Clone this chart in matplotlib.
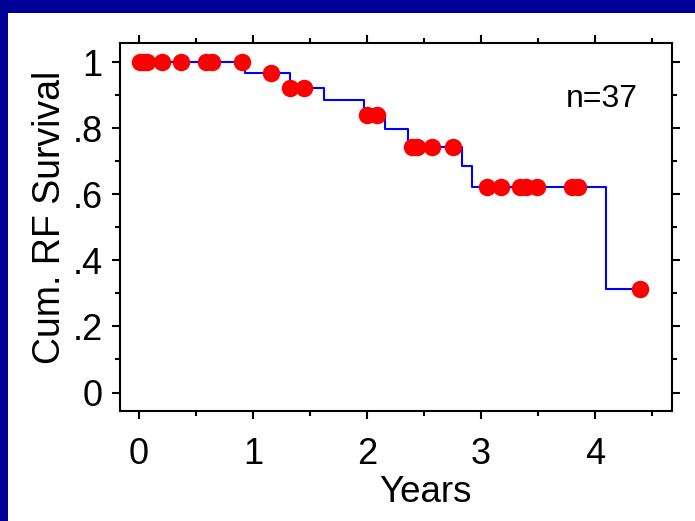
import matplotlib
matplotlib.use("Agg")
import matplotlib.pyplot as plt
from matplotlib.patches import Rectangle
from matplotlib.ticker import FixedLocator, MultipleLocator

plt.rcParams['font.family'] = ['Liberation Sans', 'DejaVu Sans']

# Kaplan-Meier step curve (event times and survival levels)
step_times = [0.0, 0.931, 1.32, 1.62, 1.975, 2.155, 2.36, 2.83, 2.917, 4.10, 4.395]
step_surv = [1.0, 0.966, 0.923, 0.884, 0.840, 0.797, 0.744, 0.687, 0.623, 0.314, 0.314]

# Censored observations
cens_times = [0.01, 0.04, 0.07, 0.199, 0.368, 0.59, 0.642, 0.90,
              1.161,
              1.325, 1.45,
              2.004, 2.083,
              2.392, 2.441, 2.572, 2.753,
              3.054, 3.176, 3.346, 3.39, 3.49, 3.797, 3.85,
              4.395]
cens_surv = [1.0] * 8 + [0.966] + [0.923] * 2 + [0.840] * 2 + [0.744] * 4 + [0.623] * 7 + [0.314]

x_ticks = [0, 1, 2, 3, 4]
y_ticks = [0, 0.2, 0.4, 0.6, 0.8, 1.0]
y_tick_labels = ['0', '.2', '.4', '.6', '.8', '1']

W, H = 695, 521
fig = plt.figure(figsize=(W / 100, H / 100), dpi=100, facecolor='white')

navy = '#000099'
fig.patches.append(Rectangle((0, 1 - 13 / H), 1, 13 / H, transform=fig.transFigure,
                             facecolor=navy, edgecolor='none', zorder=0))
fig.patches.append(Rectangle((0, 0), 8 / W, 1, transform=fig.transFigure,
                             facecolor=navy, edgecolor='none', zorder=0))

left, right, top, bottom = 120, 672, 43, 411
ax = fig.add_axes([left / W, 1 - bottom / H, (right - left) / W, (bottom - top) / H])

ax.step(step_times, step_surv, where='post', color='#0000FF', lw=1.5, zorder=2)
ax.plot(cens_times, cens_surv, 'o', color='#FF0000', markersize=12.6,
        markeredgewidth=0, zorder=3)

ax.set_xlim(-0.167, 4.675)
ax.set_ylim(-0.056, 1.058)

ax.xaxis.set_major_locator(FixedLocator(x_ticks))
ax.xaxis.set_minor_locator(MultipleLocator(0.5))
ax.yaxis.set_major_locator(FixedLocator(y_ticks))
ax.yaxis.set_minor_locator(FixedLocator([0.1, 0.3, 0.5, 0.7, 0.9]))
ax.set_yticklabels(y_tick_labels)

for s in ax.spines.values():
    s.set_linewidth(1.5)
    s.set_color('black')

ax.tick_params(which='both', direction='out', top=True, right=True,
               width=1.5, color='black')
ax.tick_params(which='major', length=6)
ax.tick_params(which='minor', length=3.5)
ax.tick_params(axis='x', which='major', labelsize=26, pad=13)
ax.tick_params(axis='y', which='major', labelsize=26, pad=6.5)

ax.set_xlabel('Years', fontsize=26.5, va='baseline')
ax.xaxis.set_label_coords((425 - left) / (right - left), -(501.7 - bottom) / (bottom - top))
ax.set_ylabel('Cum. RF Survival', fontsize=27, va='center')
ax.yaxis.set_label_coords((50 - left) / (right - left), (bottom - 217) / (bottom - top))

ax.text(3.745, 0.8645, 'n=37', fontsize=23, ha='left', va='baseline')

fig.savefig('out.png', dpi=100, facecolor='white')
